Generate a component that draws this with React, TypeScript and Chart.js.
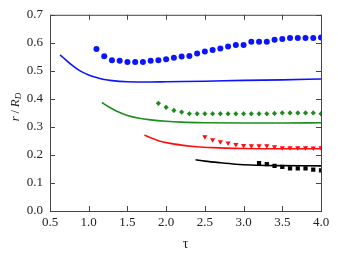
import React, { useEffect, useRef } from "react";
import { Chart, registerables } from "chart.js";
Chart.register(...registerables);

const blueX = [1.1,1.2,1.3,1.4,1.5,1.6,1.7,1.8,1.9,2.0,2.1,2.2,2.3,2.4,2.5,2.6,2.7,2.8,2.9,3.0,3.1,3.2,3.3,3.4,3.5,3.6,3.7,3.8,3.9,4.0];
const blueY = [0.578,0.552,0.538,0.536,0.532,0.532,0.532,0.536,0.538,0.541,0.547,0.551,0.553,0.562,0.569,0.574,0.580,0.587,0.592,0.592,0.604,0.604,0.604,0.611,0.614,0.617,0.617,0.617,0.617,0.619];
const blueLineX = [0.63,0.7,0.8,0.9,1.0,1.1,1.2,1.3,1.5,1.8,2.0,2.5,3.0,3.5,4.0];
const blueLineY = [0.557,0.540,0.517,0.498,0.485,0.476,0.469,0.465,0.461,0.460,0.461,0.463,0.466,0.468,0.471];

const greenX = [1.9,2.0,2.1,2.2,2.3,2.4,2.5,2.6,2.7,2.8,2.9,3.0,3.1,3.2,3.3,3.4,3.5,3.6,3.7,3.8,3.9,4.0];
const greenY = [0.384,0.370,0.359,0.353,0.347,0.347,0.347,0.347,0.347,0.347,0.347,0.347,0.347,0.347,0.347,0.348,0.350,0.350,0.350,0.350,0.350,0.347];
const greenErr = [0.007,0.007,0.007,0.007,0.007,0.007,0.007,0.007,0.007,0.007,0.007,0.007,0.007,0.007,0.007,0.007,0.007,0.007,0.007,0.007,0.007,0.007];
const greenLineX = [1.17,1.25,1.35,1.5,1.65,1.8,2.0,2.2,2.5,3.0,3.5,4.0];
const greenLineY = [0.387,0.373,0.358,0.341,0.331,0.325,0.320,0.317,0.315,0.314,0.314,0.315];

const redX = [2.5,2.6,2.7,2.8,2.9,3.0,3.1,3.2,3.3,3.4,3.5,3.6,3.7,3.8,3.9,4.0];
const redY = [0.265,0.254,0.247,0.243,0.237,0.234,0.233,0.233,0.233,0.229,0.226,0.226,0.226,0.226,0.225,0.226];
const redErr = [0.004,0.004,0.004,0.004,0.004,0.004,0.004,0.004,0.004,0.004,0.004,0.004,0.004,0.004,0.004,0.004];
const redLineX = [1.72,1.8,1.9,2.0,2.2,2.4,2.6,3.0,3.5,4.0];
const redLineY = [0.271,0.261,0.251,0.244,0.235,0.229,0.226,0.223,0.222,0.222];

const blackX = [3.2,3.3,3.4,3.5,3.6,3.7,3.8,3.9,4.0];
const blackY = [0.171,0.167,0.161,0.157,0.152,0.152,0.152,0.148,0.145];
const blackLineX = [2.38,2.5,2.7,2.9,3.1,3.4,4.0];
const blackLineY = [0.183,0.178,0.172,0.167,0.164,0.162,0.161];

const xTicks = [0.5,1.0,1.5,2.0,2.5,3.0,3.5,4.0];
const yTicks = [0.0,0.1,0.2,0.3,0.4,0.5,0.6,0.7];

const BLUE = "#0a14ff";
const GREEN = "#1e8c1e";
const RED = "#ff1010";
const BLACK = "#000000";

const pts = (xs: number[], ys: number[]) => xs.map((x, i) => ({ x, y: ys[i] }));

const FONT = "'Liberation Serif', 'DejaVu Serif', serif";

const framePlugin = {
  id: "frame",
  afterDatasetsDraw(chart: any) {
    const { ctx, chartArea: a, scales } = chart;
    ctx.save();
    const bars: [number[], number[], number[], string][] = [
      [greenX, greenY, greenErr, GREEN],
      [redX, redY, redErr, RED],
    ];
    ctx.lineWidth = 1.2;
    for (const [xs, ys, es, col] of bars) {
      ctx.strokeStyle = col;
      xs.forEach((x, i) => {
        const px = scales.x.getPixelForValue(x);
        const y1 = scales.y.getPixelForValue(ys[i] - es[i]);
        const y2 = scales.y.getPixelForValue(ys[i] + es[i]);
        ctx.beginPath();
        ctx.moveTo(px, y1);
        ctx.lineTo(px, y2);
        ctx.stroke();
      });
    }
    ctx.strokeStyle = "#444";
    ctx.lineWidth = 1;
    ctx.strokeRect(a.left + 0.5, a.top + 0.5, a.right - a.left, a.bottom - a.top);
    const tl = 5;
    ctx.beginPath();
    xTicks.forEach((v) => {
      const px = Math.round(scales.x.getPixelForValue(v)) + 0.5;
      ctx.moveTo(px, a.bottom);
      ctx.lineTo(px, a.bottom - tl);
      ctx.moveTo(px, a.top);
      ctx.lineTo(px, a.top + tl);
    });
    yTicks.forEach((v) => {
      const py = Math.round(scales.y.getPixelForValue(v)) + 0.5;
      ctx.moveTo(a.left, py);
      ctx.lineTo(a.left + tl, py);
      ctx.moveTo(a.right, py);
      ctx.lineTo(a.right - tl, py);
    });
    ctx.stroke();

    // y-axis title r / R_D with subscript
    ctx.translate(16, 107);
    ctx.rotate(-Math.PI / 2);
    ctx.fillStyle = "#222";
    ctx.textBaseline = "middle";
    const parts: [string, string, number][] = [
      ["r", "italic 13px " + FONT, 0],
      ["\u2009/\u2009", "13px " + FONT, 0],
      ["R", "italic 13px " + FONT, 0],
      ["D", "italic 9px " + FONT, 3],
    ];
    let w = 0;
    parts.forEach(([t, f]) => { ctx.font = f; w += ctx.measureText(t).width; });
    let x = -w / 2;
    parts.forEach(([t, f, dy]) => {
      ctx.font = f;
      ctx.fillText(t, x, dy);
      x += ctx.measureText(t).width;
    });
    ctx.restore();
  },
};

export default function App() {
  const ref = useRef<HTMLCanvasElement>(null);
  useEffect(() => {
    document.body.style.margin = "0";
    const line = (xs: number[], ys: number[], c: string) => ({
      data: pts(xs, ys),
      showLine: true,
      borderColor: c,
      borderWidth: 1.6,
      pointRadius: 0,
      cubicInterpolationMode: "monotone" as const,
    });
    const mark = (xs: number[], ys: number[], c: string, style: string, r: number, rot = 0) => ({
      data: pts(xs, ys),
      showLine: false,
      backgroundColor: c,
      borderColor: c,
      borderWidth: 0,
      pointStyle: style,
      pointRadius: r,
      rotation: rot,
    });
    const chart = new Chart(ref.current!, {
      type: "scatter",
      data: {
        datasets: [
          line(blueLineX, blueLineY, BLUE),
          line(greenLineX, greenLineY, GREEN),
          line(redLineX, redLineY, RED),
          line(blackLineX, blackLineY, BLACK),
          mark(blueX, blueY, BLUE, "circle", 3),
          mark(greenX, greenY, GREEN, "rectRot", 2.6),
          mark(redX, redY, RED, "triangle", 3, 180),
          mark(blackX, blackY, BLACK, "rect", 3),
        ] as any,
      },
      options: {
        animation: false,
        responsive: false,
        events: [],
        layout: { padding: { left: 0, right: 17, top: 10, bottom: 0 } },
        plugins: { legend: { display: false }, tooltip: { enabled: false } },
        scales: {
          x: {
            type: "linear",
            min: 0.5,
            max: 4.0,
            afterBuildTicks: (s: any) => { s.ticks = xTicks.map((v) => ({ value: v })); },
            afterFit: (s: any) => { s.height = 42; },
            grid: { display: false, drawTicks: false },
            border: { display: false },
            ticks: {
              color: "#222",
              padding: 4,
              font: { family: FONT, size: 13 },
              callback: (v: any) => Number(v).toFixed(1),
            },
            title: { display: true, text: "τ", color: "#222", font: { family: FONT, size: 14 }, padding: { top: 2, bottom: 0 } },
          },
          y: {
            type: "linear",
            min: 0,
            max: 0.7,
            afterBuildTicks: (s: any) => { s.ticks = yTicks.map((v) => ({ value: v })); },
            afterFit: (s: any) => { s.width = 50; },
            grid: { display: false, drawTicks: false },
            border: { display: false },
            ticks: {
              color: "#222",
              padding: 7,
              font: { family: FONT, size: 13 },
              callback: (v: any) => Number(v).toFixed(1),
            },
            title: { display: false },
          },
        },
      },
      plugins: [framePlugin],
    });
    return () => chart.destroy();
  }, []);
  return (
    <div style={{ width: 338, height: 253 }}>
      <canvas ref={ref} width={338} height={253} />
    </div>
  );
}
